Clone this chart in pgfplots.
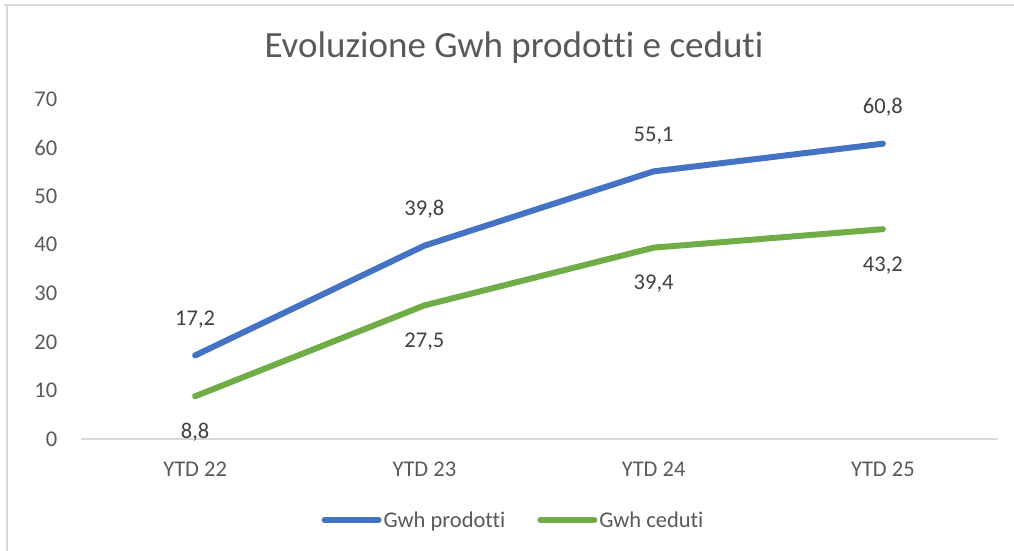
\documentclass[border=0pt]{standalone}
\usepackage{pgfplots}
\pgfplotsset{compat=1.18}
\usepackage{fontspec}
\setmainfont{Carlito}[Ligatures=CommonOff]
\definecolor{cblue}{HTML}{4472C4}
\definecolor{cgreen}{HTML}{70AD47}
\definecolor{ctext}{HTML}{595959}
\definecolor{clab}{HTML}{404040}
\definecolor{cframe}{HTML}{D9D9D9}
\begin{document}
\begin{tikzpicture}
\useasboundingbox (-80.5bp,-112bp) rectangle (933.5bp,439bp);
\draw[cframe, line width=1.2bp] (-76.5bp,434bp) -- (933.5bp,434bp);
\draw[cframe, line width=1.2bp] (-73.5bp,434bp) -- (-73.5bp,-112bp);
\node[text=ctext, font=\fontsize{37bp}{44bp}\selectfont] at (433.5bp,391bp) {Evoluzione Gwh prodotti e ceduti};
\begin{axis}[
  at={(0,0)}, anchor=south west,
  scale only axis, width=917bp, height=340bp,
  xmin=-0.5, xmax=3.5, ymin=0, ymax=70,
  xtick={0,1,2,3}, xticklabels={YTD 22,YTD 23,YTD 24,YTD 25},
  ytick={0,10,...,70},
  axis line style={draw=none},
  axis x line*=bottom, axis y line*=left,
  major tick length=0pt,
  tick label style={text=ctext, font=\fontsize{22.5bp}{26bp}\selectfont},
  /pgf/number format/assume math mode=true,
  yticklabel style={anchor=east, inner sep=0pt, xshift=-23bp},
  xticklabel style={anchor=north, inner sep=0pt, yshift=-23bp},
  clip=false,
  legend style={at={(433bp,-81bp)}, anchor=center, draw=none, fill=none,
    legend columns=2, font=\fontsize{22.5bp}{26bp}\selectfont, text=ctext,
    /tikz/every even column/.append style={column sep=30bp},
    inner sep=0pt},
  legend image code/.code={\draw[#1, line cap=round, line width=6bp] (0bp,0bp) -- (54bp,0bp);},
  nodes near coords,
  every node near coord/.append style={text=clab, font=\fontsize{22.5bp}{26bp}\selectfont,
    /pgf/number format/fixed, /pgf/number format/fixed zerofill,
    /pgf/number format/precision=1, /pgf/number format/use comma,
    /pgf/number format/assume math mode=true},
]
\draw[cframe, line width=1.5bp] (axis cs:-0.5,0) -- (axis cs:3.5,0);
\addplot[cblue, line width=6bp, line cap=round, line join=round, mark=none,
  every node near coord/.append style={anchor=south, yshift=21bp}]
  coordinates {(0,17.2) (1,39.8) (2,55.1) (3,60.8)};
\addlegendentry{Gwh prodotti}
\addplot[cgreen, line width=6bp, line cap=round, line join=round, mark=none,
  every node near coord/.append style={anchor=north, yshift=-21bp}]
  coordinates {(0,8.8) (1,27.5) (2,39.4) (3,43.2)};
\addlegendentry{Gwh ceduti}
\end{axis}
\end{tikzpicture}
\end{document}
